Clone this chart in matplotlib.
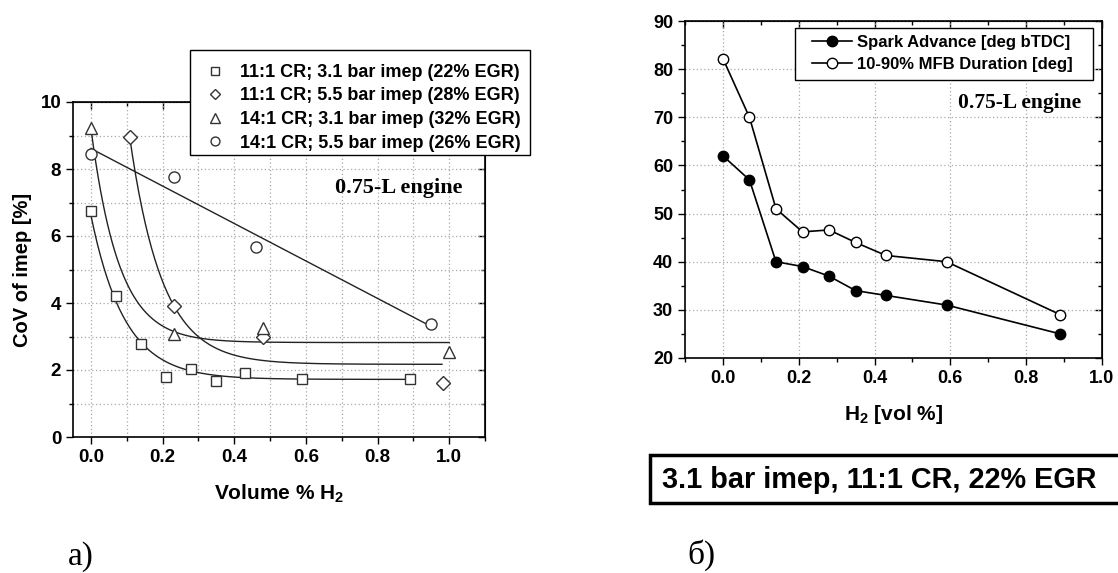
import numpy as np
import matplotlib
matplotlib.use("Agg")
import matplotlib.pyplot as plt
from matplotlib.ticker import MultipleLocator, NullFormatter
from matplotlib.patches import Rectangle

plt.rcParams['font.family'] = ['Liberation Sans', 'DejaVu Sans']
plt.rcParams['mathtext.fontset'] = 'custom'
plt.rcParams['mathtext.rm'] = 'Liberation Sans'
plt.rcParams['mathtext.bf'] = 'Liberation Sans:bold'

# ---------------- data: panel a ----------------
sq_x = [0.0, 0.07, 0.14, 0.21, 0.28, 0.35, 0.43, 0.59, 0.89]
sq_y = [6.75, 4.22, 2.77, 1.80, 2.02, 1.66, 1.91, 1.72, 1.72]
di_x = [0.108, 0.232, 0.48, 0.983]
di_y = [8.95, 3.92, 2.98, 1.60]
tr_x = [0.0, 0.231, 0.48, 1.0]
tr_y = [9.22, 3.07, 3.24, 2.54]
ci_x = [0.0, 0.231, 0.461, 0.95]
ci_y = [8.45, 7.77, 5.68, 3.36]
labels_a = ["11:1 CR; 3.1 bar imep (22% EGR)",
            "11:1 CR; 5.5 bar imep (28% EGR)",
            "14:1 CR; 3.1 bar imep (32% EGR)",
            "14:1 CR; 5.5 bar imep (26% EGR)"]
# exponential-decay fit curves: (x_start, x_end, y_inf, amplitude, tau)
fit_sq = [0.0, 0.89, 1.72, 4.9, 0.094]
fit_di = [0.108, 0.98, 2.17, 6.8, 0.091]
fit_tr = [0.0, 1.0, 2.82, 6.4, 0.078]
ci_fit_range = [0.0, 0.95]

# ---------------- data: panel b ----------------
h2 = [0.0, 0.07, 0.14, 0.21, 0.28, 0.35, 0.43, 0.59, 0.89]
spark = [62.0, 57.0, 40.0, 39.0, 37.0, 34.0, 33.0, 31.0, 25.0]
mfb = [82.2, 70.0, 51.0, 46.2, 46.6, 44.0, 41.3, 40.0, 29.0]
labels_b = ["Spark Advance [deg bTDC]", "10-90% MFB Duration [deg]"]

W, H = 1118, 573
fig = plt.figure(figsize=(W / 100, H / 100), dpi=100)

def fx(px):
    return px / W

def fy(py):
    return 1 - py / H

def frame(x0, y0, x1, y1, lw=1.0):
    r = Rectangle((fx(x0), fy(y1)), fx(x1) - fx(x0), fy(y0) - fy(y1),
                  transform=fig.transFigure, facecolor='white', edgecolor='black',
                  linewidth=lw, zorder=4)
    fig.patches.append(r)

def style_axes(ax, xminor, yminor, grid_minor, lsize):
    ax.tick_params(which='both', direction='out', top=False, right=False)
    ax.tick_params(which='major', length=5, width=1, labelsize=lsize)
    ax.tick_params(which='minor', length=3, width=1)
    for lab in ax.get_xticklabels() + ax.get_yticklabels():
        lab.set_fontweight('bold')
    ax.xaxis.set_minor_locator(MultipleLocator(xminor))
    ax.yaxis.set_minor_locator(MultipleLocator(yminor))
    sx = ax.secondary_xaxis('top')
    sy = ax.secondary_yaxis('right')
    sx.set_xticks(ax.get_xticks())
    sy.set_yticks(ax.get_yticks())
    sx.xaxis.set_major_formatter(NullFormatter())
    sy.yaxis.set_major_formatter(NullFormatter())
    sx.xaxis.set_minor_locator(MultipleLocator(xminor))
    sy.yaxis.set_minor_locator(MultipleLocator(yminor))
    for s in (sx, sy):
        s.tick_params(which='both', direction='in', width=1)
        s.tick_params(which='major', length=5)
        s.tick_params(which='minor', length=3)
    ax.grid(True, which='major', color='#a8a8a8', linestyle=(0, (1, 2)), linewidth=0.9)
    if grid_minor:
        ax.grid(True, which='minor', color='#a8a8a8', linestyle=(0, (1, 2)), linewidth=0.9)
    for sp in ax.spines.values():
        sp.set_linewidth(1.2)
    ax.set_axisbelow(True)

# ---------------- panel a ----------------
axa = fig.add_axes([fx(73), fy(437), fx(485) - fx(73), fy(102) - fy(437)])
axa.set_xlim(-0.05, 1.1)
axa.set_ylim(0, 10)
axa.set_xticks([0.0, 0.2, 0.4, 0.6, 0.8, 1.0])
axa.set_xticklabels(["0.0", "0.2", "0.4", "0.6", "0.8", "1.0"])
axa.set_yticks([0, 2, 4, 6, 8, 10])

def exp_curve(p):
    x0, x1, yinf, amp, tau = p
    xx = np.linspace(x0, x1, 300)
    return xx, yinf + amp * np.exp(-(xx - x0) / tau)

for p in (fit_sq, fit_di, fit_tr):
    xx, yy = exp_curve(p)
    axa.plot(xx, yy, color='#222222', lw=1.0, zorder=2)
k, b = np.polyfit(ci_x, ci_y, 1)
xx = np.array(ci_fit_range)
axa.plot(xx, k * xx + b, color='#222222', lw=1.0, zorder=2)

mk = dict(linestyle='none', markerfacecolor='white', markeredgecolor='#333333',
          markeredgewidth=1.0, zorder=3)
h1, = axa.plot(sq_x, sq_y, marker='s', ms=7, **mk)
h2_, = axa.plot(di_x, di_y, marker='D', ms=7, **mk)
h3, = axa.plot(tr_x, tr_y, marker='^', ms=8.5, **mk)
h4, = axa.plot(ci_x, ci_y, marker='o', ms=8, **mk)
style_axes(axa, 0.1, 1, True, 13.5)
axa.set_ylabel("CoV of imep [%]", fontsize=14.5, fontweight='bold', labelpad=6)
axa.set_xlabel("Volume % H$_\\mathbf{2}$", fontsize=15, fontweight='bold', labelpad=12)
fig.text(fx(399), fy(188), "0.75-L engine", family='Liberation Serif',
         fontweight='bold', fontsize=16, ha='center', va='center')
frame(190, 50, 530, 155)
lg = fig.legend([h1, h2_, h3, h4], labels_a, loc='upper left',
                bbox_to_anchor=(fx(206), fy(64)),
                prop={'weight': 'bold', 'size': 13}, frameon=False,
                markerscale=0.8, handlelength=1.0,
                borderpad=0, labelspacing=0.36, handletextpad=0.9, borderaxespad=0)
lg.set_zorder(6)

# ---------------- panel b ----------------
axb = fig.add_axes([fx(685), fy(358), fx(1102) - fx(685), fy(21) - fy(358)])
axb.set_xlim(-0.1, 1.0)
axb.set_ylim(20, 90)
axb.set_xticks([0.0, 0.2, 0.4, 0.6, 0.8, 1.0])
axb.set_xticklabels(["0.0", "0.2", "0.4", "0.6", "0.8", "1.0"])
axb.set_yticks([20, 30, 40, 50, 60, 70, 80, 90])
hb1, = axb.plot(h2, spark, color='black', lw=1.2, marker='o', ms=7.5,
                markerfacecolor='black', markeredgecolor='black', zorder=3)
hb2, = axb.plot(h2, mfb, color='black', lw=1.2, marker='o', ms=7.5,
                markerfacecolor='white', markeredgecolor='black', zorder=3)
style_axes(axb, 0.1, 5, False, 13)
axb.set_xlabel("H$_\\mathbf{2}$ [vol %]", fontsize=15, fontweight='bold', labelpad=12)
fig.text(fx(1020), fy(103), "0.75-L engine", family='Liberation Serif',
         fontweight='bold', fontsize=15.5, ha='center', va='center')
frame(795, 28, 1093, 80)
lgb = fig.legend([hb1, hb2], labels_b, loc='upper left',
                 bbox_to_anchor=(fx(812), fy(35)),
                 prop={'weight': 'bold', 'size': 12}, frameon=False, handlelength=2.4,
                 borderpad=0, labelspacing=0.42, handletextpad=0.3, borderaxespad=0)
lgb.set_zorder(6)

frame(650, 455, 1125, 503, lw=2.5)
fig.text(fx(662), fy(480), "3.1 bar imep, 11:1 CR, 22% EGR", fontsize=20.8,
         fontweight='bold', ha='left', va='center', zorder=6)

fig.text(fx(68), fy(557), "а)", family='Liberation Serif', fontsize=24,
         ha='left', va='center')
fig.text(fx(687), fy(555), "б)", family='Liberation Serif', fontsize=24,
         ha='left', va='center')

fig.savefig("out.png", dpi=100)
